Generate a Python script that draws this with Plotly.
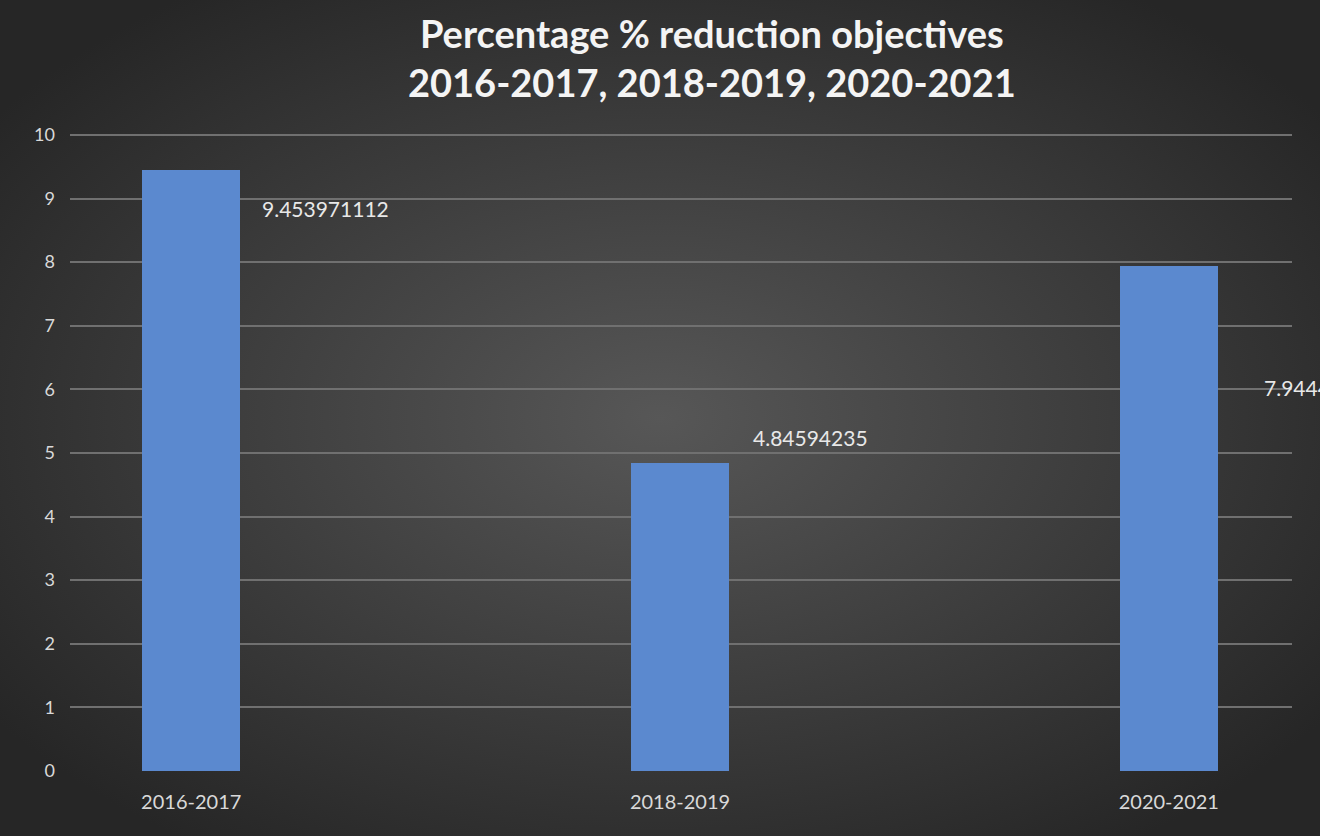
import plotly.graph_objects as go
import base64

categories = ["2016-2017", "2018-2019", "2020-2021"]
values = [9.453971112, 4.84594235, 7.944438]
label_texts = ["9.453971112", "4.84594235", "7.944438"]
label_xshift = [69, 71, 93]
label_yshift = [-39, 25, -122]

W, H = 1320, 836
ML, MR, MT, MB = 70, 28, 133, 65

bg_svg = """<svg xmlns='http://www.w3.org/2000/svg' width='1320' height='836' preserveAspectRatio='none'>
<defs><radialGradient id='g' cx='50%' cy='50%' r='62%'>
<stop offset='0%' stop-color='#575757'/><stop offset='100%' stop-color='#262626'/>
</radialGradient></defs><rect width='1320' height='836' fill='url(#g)'/></svg>"""
bg_uri = "data:image/svg+xml;base64," + base64.b64encode(bg_svg.encode()).decode()

pw = W - ML - MR
ph = H - MT - MB

fig = go.Figure()
fig.add_trace(go.Bar(
    x=[0, 1, 2], y=values, width=0.2,
    marker=dict(color="#5b89cf", line=dict(width=0)),
    hoverinfo="skip",
))

for i, (v, t) in enumerate(zip(values, label_texts)):
    fig.add_annotation(x=i, y=v, text=t, showarrow=False, xanchor="left", yanchor="middle",
                       xshift=label_xshift[i], yshift=label_yshift[i],
                       font=dict(family="Lato", size=21, color="#e8e8e8"))

fig.add_annotation(text="<b>Percentage % reduction objectives<br>2016-2017, 2018-2019, 2020-2021</b>",
                   xref="paper", yref="paper", x=(712 - ML) / pw, y=1 + (MT - 57) / ph,
                   xanchor="center", yanchor="middle", showarrow=False,
                   font=dict(family="Lato", size=38, color="#f4f4f4"))

fig.update_layout(
    width=W, height=H,
    margin=dict(l=ML, r=MR, t=MT, b=MB),
    paper_bgcolor="#303030", plot_bgcolor="rgba(0,0,0,0)",
    images=[dict(source=bg_uri, xref="paper", yref="paper",
                 x=-ML / pw, y=1 + MT / ph, sizex=W / pw, sizey=H / ph,
                 xanchor="left", yanchor="top", sizing="stretch", layer="below")],
    showlegend=False,
    bargap=0,
)
fig.update_xaxes(tickmode="array", tickvals=[0, 1, 2], ticktext=categories,
                 range=[-0.248, 2.252], showgrid=False, zeroline=False, showline=False,
                 ticks="", ticklabelstandoff=17,
                 tickfont=dict(family="Lato", size=20, color="#d9d9d9"))
fig.update_yaxes(range=[0, 10.03], tickvals=list(range(11)), showgrid=True, gridcolor="#707070", gridwidth=2,
                 zeroline=False, showline=False, ticks="", ticklabelstandoff=14,
                 tickfont=dict(family="Lato", size=18, color="#d9d9d9"))

fig.write_html("out.html", config={"displayModeBar": False},
               post_script="document.body.style.margin='0';document.body.style.overflow='hidden';")
